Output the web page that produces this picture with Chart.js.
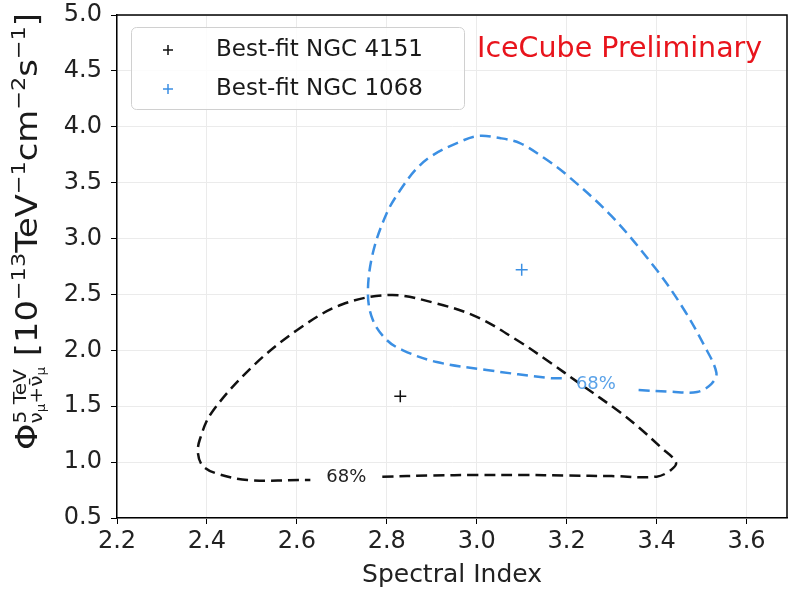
<!DOCTYPE html>
<html lang="en">
<head>
    <meta charset="UTF-8">
    <title>NGC 4151 / NGC 1068 contours</title>
    <style>
        body { margin: 0; background: #fff; }
        canvas { display: block; }
    </style>
</head>
<body>
    <canvas id="myChart" width="788" height="590"></canvas>

    <script src="https://cdn.jsdelivr.net/npm/chart.js"></script>
    <script>
        // axis ticks
        const xTicks = [2.2, 2.4, 2.6, 2.8, 3.0, 3.2, 3.4, 3.6];
        const yTicks = [0.5, 1.0, 1.5, 2.0, 2.5, 3.0, 3.5, 4.0, 4.5, 5.0];

        // 68% contour NGC 4151 (black), open where the "68%" label sits
        const ngc4151X = [2.79, 2.90, 3.00, 3.10, 3.20, 3.30, 3.40, 3.432, 3.443, 3.41, 3.362, 3.318, 3.23, 3.16, 3.09, 3.00, 2.91, 2.81, 2.70, 2.60, 2.50, 2.41, 2.384, 2.38, 2.39, 2.42, 2.49, 2.63];
        const ngc4151Y = [0.87, 0.88, 0.885, 0.885, 0.88, 0.875, 0.87, 0.93, 1.0, 1.13, 1.305, 1.448, 1.70, 1.90, 2.09, 2.30, 2.42, 2.495, 2.41, 2.18, 1.85, 1.44, 1.20, 1.08, 0.97, 0.90, 0.84, 0.84];

        // 68% contour NGC 1068 (blue)
        const ngc1068X = [3.36, 3.43, 3.49, 3.522, 3.533, 3.505, 3.46, 3.40, 3.30, 3.20, 3.15, 3.096, 3.051, 3.002, 2.956, 2.90, 2.865, 2.83, 2.80, 2.769, 2.758, 2.769, 2.80, 2.836, 2.911, 3.022, 3.162, 3.19];
        const ngc1068Y = [1.645, 1.63, 1.627, 1.70, 1.80, 2.05, 2.37, 2.72, 3.20, 3.57, 3.72, 3.854, 3.899, 3.917, 3.854, 3.74, 3.62, 3.434, 3.228, 2.870, 2.513, 2.271, 2.092, 2.00, 1.895, 1.824, 1.752, 1.75];

        // best-fit points
        const bestFit4151 = { x: 2.83, y: 1.59 };
        const bestFit1068 = { x: 3.10, y: 2.72 };

        // contour label anchors
        const label4151 = { x: 2.71, y: 0.86, text: '68%' };
        const label1068 = { x: 3.265, y: 1.70, text: '68%' };

        const BLUE = '#3b8fe3';
        const FONT = "'DejaVu Sans', sans-serif";

        function toPoints(xs, ys) {
            return xs.map((x, i) => ({ x: x, y: ys[i] }));
        }

        // frame, legend box, texts, y axis title with sub/superscripts
        const decorations = {
            id: 'decorations',
            afterDatasetsDraw(chart) {
                const ctx = chart.ctx;
                const area = chart.chartArea;
                const xs = chart.scales.x, ys = chart.scales.y;

                // contour labels
                ctx.save();
                ctx.font = '18px ' + FONT;
                ctx.textAlign = 'center';
                ctx.textBaseline = 'middle';
                ctx.fillStyle = '#222';
                ctx.fillText(label4151.text, xs.getPixelForValue(label4151.x), ys.getPixelForValue(label4151.y));
                ctx.fillStyle = '#5aa2e8';
                ctx.fillText(label1068.text, xs.getPixelForValue(label1068.x), ys.getPixelForValue(label1068.y));
                ctx.restore();

                // legend
                ctx.save();
                ctx.beginPath();
                ctx.roundRect(131.5, 27.5, 333, 82, 5);
                ctx.fillStyle = 'rgba(255,255,255,0.85)';
                ctx.fill();
                ctx.strokeStyle = '#d0d0d0';
                ctx.lineWidth = 1;
                ctx.stroke();
                const items = [
                    { text: 'Best-fit NGC 4151', color: '#111', y: 50 },
                    { text: 'Best-fit NGC 1068', color: BLUE, y: 89 }
                ];
                items.forEach(it => {
                    ctx.strokeStyle = it.color;
                    ctx.lineWidth = 1.5;
                    ctx.beginPath();
                    ctx.moveTo(163, it.y); ctx.lineTo(173, it.y);
                    ctx.moveTo(168, it.y - 5); ctx.lineTo(168, it.y + 5);
                    ctx.stroke();
                    ctx.fillStyle = '#1a1a1a';
                    ctx.font = '23px ' + FONT;
                    ctx.textBaseline = 'middle';
                    ctx.fillText(it.text, 216, it.y);
                });
                ctx.fillStyle = '#e8141c';
                ctx.font = '28.5px ' + FONT;
                ctx.fillText('IceCube Preliminary', 477, 50);
                ctx.restore();

                // top and right spines
                ctx.save();
                ctx.strokeStyle = '#000';
                ctx.lineWidth = 1.5;
                ctx.beginPath();
                ctx.moveTo(area.left, area.top);
                ctx.lineTo(area.right, area.top);
                ctx.lineTo(area.right, area.bottom);
                ctx.stroke();
                ctx.restore();

                // y axis title, stretched along its length to span 437 px
                const big = 30, small = 18, tiny = 12;
                const runs = [
                    { t: 'Φ', s: big, dy: 0 },
                    { t: '5 TeV', s: small, dy: -11, stack: 'start' },
                    { t: 'ν', s: small, dy: 5, stack: 'sub' },
                    { t: 'μ', s: tiny, dy: 8, stack: 'sub' },
                    { t: '+', s: small, dy: 5, stack: 'sub' },
                    { t: 'ν̄', s: small, dy: 5, stack: 'sub' },
                    { t: 'μ', s: tiny, dy: 8, stack: 'end' },
                    { t: ' [10', s: big, dy: 0 },
                    { t: '−13', s: 20, dy: -12 },
                    { t: 'TeV', s: big, dy: 0 },
                    { t: '−1', s: 20, dy: -12 },
                    { t: 'cm', s: big, dy: 0 },
                    { t: '−2', s: 20, dy: -12 },
                    { t: 's', s: big, dy: 0 },
                    { t: '−1', s: 20, dy: -12 },
                    { t: ']', s: big, dy: 0 }
                ];
                ctx.save();
                // measure total length first
                let total = 0, sEnd = 0;
                runs.forEach(r => {
                    ctx.font = r.s + 'px ' + FONT;
                    const w = ctx.measureText(r.t).width;
                    if (r.stack === 'start') { sEnd = total + w; return; }
                    total += w;
                    if (r.stack === 'end') total = Math.max(total, sEnd);
                });
                ctx.translate(37, 450);
                ctx.rotate(-Math.PI / 2);
                ctx.scale(437 / total, 1);
                ctx.fillStyle = '#1a1a1a';
                ctx.textBaseline = 'alphabetic';
                let pos = 0, supEnd = 0;
                runs.forEach(r => {
                    ctx.font = r.s + 'px ' + FONT;
                    if (r.stack === 'start') {
                        ctx.fillText(r.t, pos, r.dy);
                        supEnd = pos + ctx.measureText(r.t).width;
                        return;
                    }
                    ctx.fillText(r.t, pos, r.dy);
                    pos += ctx.measureText(r.t).width;
                    if (r.stack === 'end') pos = Math.max(pos, supEnd);
                });
                ctx.restore();
            }
        };

        const ctx = document.getElementById('myChart').getContext('2d');
        const myChart = new Chart(ctx, {
            type: 'scatter',
            data: {
                datasets: [
                    {
                        label: 'NGC 4151 68%',
                        data: toPoints(ngc4151X, ngc4151Y),
                        showLine: true,
                        borderColor: '#111',
                        borderWidth: 2.5,
                        borderDash: [11, 6],
                        tension: 0.35,
                        pointRadius: 0
                    },
                    {
                        label: 'NGC 1068 68%',
                        data: toPoints(ngc1068X, ngc1068Y),
                        showLine: true,
                        borderColor: BLUE,
                        borderWidth: 2.5,
                        borderDash: [11, 6],
                        tension: 0.35,
                        pointRadius: 0
                    },
                    {
                        label: 'Best-fit NGC 4151',
                        data: [bestFit4151],
                        pointStyle: 'cross',
                        pointRadius: 6,
                        borderColor: '#111',
                        borderWidth: 1.5
                    },
                    {
                        label: 'Best-fit NGC 1068',
                        data: [bestFit1068],
                        pointStyle: 'cross',
                        pointRadius: 6,
                        borderColor: BLUE,
                        borderWidth: 1.5
                    }
                ]
            },
            options: {
                responsive: false,
                animation: false,
                layout: { autoPadding: false, padding: { top: 15, right: 1, left: 0, bottom: 0 } },
                plugins: {
                    legend: { display: false },
                    tooltip: { enabled: false }
                },
                scales: {
                    x: {
                        type: 'linear',
                        min: 2.2,
                        max: 3.69,
                        afterBuildTicks: s => { s.ticks = xTicks.map(v => ({ value: v })); },
                        afterFit: s => { s.height = 72; s.paddingLeft = 0; s.paddingRight = 0; },
                        grid: { color: '#ebebeb', tickColor: '#000', tickLength: 6 },
                        border: { color: '#000', width: 1.5 },
                        ticks: {
                            padding: 3,
                            color: '#222',
                            font: { family: FONT, size: 24 },
                            callback: v => v.toFixed(1)
                        },
                        title: {
                            display: true,
                            text: 'Spectral Index',
                            color: '#222',
                            padding: { top: 0, bottom: 0 },
                            font: { family: FONT, size: 25 }
                        }
                    },
                    y: {
                        type: 'linear',
                        min: 0.5,
                        max: 5.0,
                        afterBuildTicks: s => { s.ticks = yTicks.map(v => ({ value: v })); },
                        afterFit: s => { s.width = 117; s.paddingTop = 0; s.paddingBottom = 0; },
                        grid: { color: '#ebebeb', tickColor: '#000', tickLength: 6 },
                        border: { color: '#000', width: 1.5 },
                        ticks: {
                            padding: 9,
                            color: '#222',
                            font: { family: FONT, size: 24 },
                            callback: v => v.toFixed(1)
                        }
                    }
                }
            },
            plugins: [decorations]
        });
    </script>
</body>
</html>
